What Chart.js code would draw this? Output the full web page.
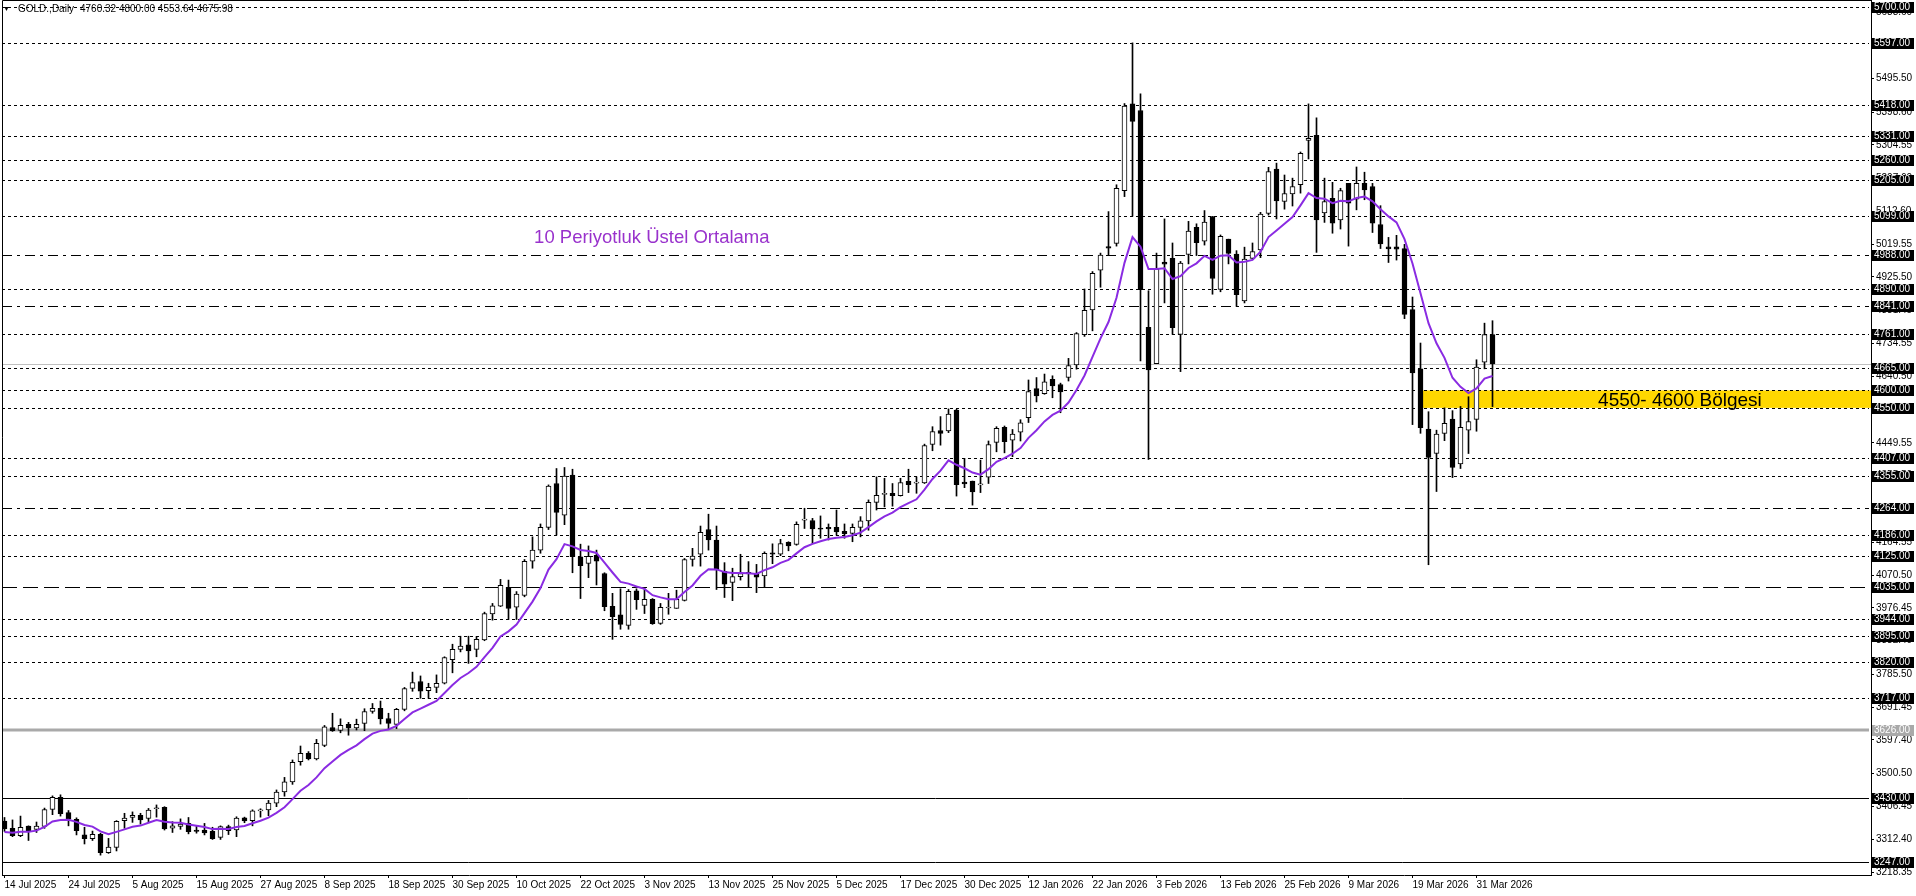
<!DOCTYPE html>
<html>
<head>
<meta charset="utf-8">
<script src="https://cdn.jsdelivr.net/npm/chart.js@4.4.1/dist/chart.umd.min.js"></script>
<style>
  html, body { margin: 0; padding: 0; background: #fff; overflow: hidden; }
  canvas { display: block; }
</style>
</head>
<body>
<canvas id="chart" width="1916" height="896"></canvas>
<script>
// ---- data ----
var symbolTitle = 'GOLD.,Daily';
var lastOHLC = [4760.32, 4800.00, 4553.64, 4675.98];

var dateLabels = ['14 Jul 2025', '24 Jul 2025', '5 Aug 2025', '15 Aug 2025', '27 Aug 2025', '8 Sep 2025',
  '18 Sep 2025', '30 Sep 2025', '10 Oct 2025', '22 Oct 2025', '3 Nov 2025', '13 Nov 2025', '25 Nov 2025',
  '5 Dec 2025', '17 Dec 2025', '30 Dec 2025', '12 Jan 2026', '22 Jan 2026', '3 Feb 2026', '13 Feb 2026',
  '25 Feb 2026', '9 Mar 2026', '19 Mar 2026', '31 Mar 2026'];
var barsPerDateLabel = 8;

var opens = [3365,3344,3323,3350,3341,3349,3398,3433,3389,3370,3325,3314,3327,3274,3289,3366,3375,3381,3372,3400,
  3404,3344,3349,3358,3339,3339,3335,3318,3349,3339,3374,3366,3394,3397,3416,3448,3477,3535,3559,3543,
  3582,3633,3625,3642,3632,3645,3679,3688,3659,3642,3685,3745,3765,3739,3748,3760,3828,3857,3870,3857,
  3884,3959,3981,4035,3978,4012,4110,4142,4207,4333,4242,4357,4123,4104,4127,4075,3981,3956,3926,4025,
  3983,4001,3932,3976,3975,3998,4115,4130,4201,4171,4081,4049,4066,4078,4075,4068,4134,4130,4164,4158,
  4228,4227,4205,4207,4207,4196,4190,4207,4226,4279,4302,4305,4298,4339,4334,4335,4445,4485,4484,4544,
  4337,4340,4329,4351,4451,4494,4457,4480,4522,4605,4591,4632,4617,4637,4673,4760,4831,4945,5013,5022,
  5173,5422,5403,4781,4677,4968,4979,4761,4990,5068,5028,5099,4890,5034,4991,4857,4979,5003,5108,5235,
  5142,5164,5190,5317,5332,5109,5151,5089,5194,5149,5194,5185,5076,5012,5012,5007,4832,4662,4489,4419,
  4477,4518,4389,4486,4517,4681,4760.32];
var highs = [3375,3368,3379,3351,3362,3402,3437,3440,3395,3374,3347,3336,3330,3315,3366,3387,3391,3387,3401,3411,
  3406,3363,3371,3375,3351,3358,3347,3351,3353,3377,3376,3397,3400,3424,3454,3490,3540,3580,3564,3599,
  3639,3674,3658,3648,3657,3687,3702,3709,3674,3688,3748,3792,3781,3760,3784,3836,3872,3895,3895,3894,
  3964,3989,4058,4056,4023,4115,4180,4217,4329,4376,4379,4374,4159,4154,4142,4077,4018,4031,4029,4031,
  4033,4003,3989,4018,4027,4118,4147,4211,4245,4211,4106,4090,4130,4109,4101,4137,4160,4173,4166,4223,
  4262,4233,4240,4217,4257,4217,4217,4238,4286,4352,4348,4333,4348,4374,4352,4446,4496,4525,4547,4546,
  4405,4340,4400,4455,4496,4498,4488,4516,4630,4637,4647,4642,4621,4692,4766,4891,4941,4994,5113,5190,
  5423,5597,5451,4886,4994,5092,5023,4970,5085,5078,5116,5099,5046,5034,5001,5011,5023,5111,5240,5252,
  5218,5209,5284,5422,5382,5209,5197,5180,5194,5241,5226,5194,5130,5039,5045,5019,4868,4736,4539,4486,
  4550,4542,4554,4582,4688,4793,4800.00];
var lows = [3335,3320,3320,3309,3332,3344,3383,3379,3351,3325,3299,3309,3267,3272,3279,3344,3361,3356,3363,3376,
  3339,3332,3341,3328,3330,3325,3312,3312,3326,3320,3360,3351,3376,3380,3406,3436,3470,3525,3540,3540,
  3578,3622,3618,3611,3626,3624,3674,3643,3628,3630,3681,3737,3717,3717,3733,3758,3790,3850,3817,3836,
  3882,3941,3980,3943,3943,4008,4090,4133,4201,4185,4215,4077,4003,4063,4042,3968,3886,3915,3915,3972,
  3960,3929,3929,3958,3975,3996,4096,4096,4142,4029,4006,3997,4056,4037,4020,4037,4103,4126,4140,4156,
  4204,4161,4176,4171,4185,4176,4166,4180,4199,4257,4266,4268,4297,4307,4305,4333,4427,4443,4479,4297,
  4321,4271,4307,4333,4424,4421,4410,4455,4508,4567,4589,4579,4536,4627,4661,4755,4771,4896,4987,5014,
  5156,5100,4685,4402,4677,4851,4761,4654,4963,4987,5017,4876,4883,4963,4841,4851,4977,4981,5103,5092,
  5120,5129,5166,5264,4996,5082,5051,5063,5014,5118,5147,5053,5007,4967,4974,4806,4502,4477,4100,4310,
  4456,4350,4376,4419,4483,4662,4553.64];
var closes = [3342,3323,3347,3336,3350,3398,3433,3386,3370,3337,3314,3327,3274,3290,3364,3373,3381,3368,3396,3402,
  3342,3351,3356,3334,3335,3331,3314,3349,3337,3373,3365,3394,3397,3416,3448,3477,3533,3559,3543,3588,
  3635,3624,3639,3632,3642,3679,3688,3658,3645,3685,3745,3762,3737,3748,3760,3834,3857,3867,3853,3886,
  3960,3982,4041,3975,4016,4110,4142,4207,4326,4250,4354,4123,4097,4124,4110,3980,3951,3929,4024,4000,
  4001,3931,3978,3978,4001,4115,4125,4193,4171,4085,4044,4066,4075,4074,4064,4133,4130,4161,4154,4216,
  4230,4203,4202,4203,4194,4189,4207,4226,4279,4299,4303,4298,4336,4330,4336,4442,4482,4477,4532,4330,
  4332,4309,4331,4445,4491,4453,4475,4507,4597,4584,4625,4613,4596,4671,4763,4830,4936,4988,5008,5180,
  5416,5372,4889,4659,4948,4962,4780,4965,5057,5024,5083,4921,5042,4993,4875,4977,4998,5106,5228,5144,
  5165,5185,5280,5323,5089,5142,5080,5173,5137,5194,5175,5080,5020,5006,5005,4818,4650,4493,4408,4475,
  4506,4379,4494,4511,4667,4760,4675.98];

// 10 period exponential average of the closes; level before the first bar
var emaPeriod = 10;
var emaStart = 3331;

// horizontal levels drawn on the chart
var levels = [5700, 5597, 5418, 5331, 5260, 5205, 5099, 4988, 4890, 4841, 4761, 4665, 4600, 4550,
  4407, 4355, 4264, 4186, 4125, 4035, 3944, 3895, 3820, 3717, 3626, 3430, 3247];
var dashDotLevels = [4988, 4841, 4264];
var longDashLevels = [4035];
var solidLevels = [3430, 3247];
var grayLevels = [3626];

var zoneRange = [4550, 4600];
var zoneStartBar = 177.15;
var zoneText = '4550- 4600 Bölgesi';
var emaText = '10 Periyotluk Üstel Ortalama';

// price scale tick labels
var priceTicks = [3218.35, 3312.40, 3406.45, 3500.50, 3597.40, 3691.45, 3785.50, 3882.40, 3976.45, 4070.50,
  4164.55, 4261.45, 4355.50, 4449.55, 4546.45, 4640.50, 4734.55, 4831.45, 4925.50, 5019.55, 5112.60,
  5207.60, 5304.55, 5398.60, 5495.50, 5590.55, 5683.60];
var priceMin = 3210, priceMax = 5720;

// ---- build datasets ----
var ema = [];
closes.reduce(function (prev, c, i) {
  var k = 2 / (emaPeriod + 1);
  var e = prev + k * (c - prev);
  ema.push({ x: i, y: e });
  return e;
}, emaStart);

var bodies = opens.map(function (o, i) { return { x: i, y: [o, closes[i]] }; });
var wicks = lows.map(function (l, i) { return { x: i, y: [l, highs[i]] }; });
var bodyColors = opens.map(function (o, i) { return closes[i] >= o ? '#ffffff' : '#000000'; });
var dateTickBars = dateLabels.map(function (d, i) { return i * barsPerDateLabel; });

var FONT = "'Liberation Sans', Arial, sans-serif";

var overlay = {
  id: 'overlay',
  beforeDatasetsDraw: function (chart) {
    var ctx = chart.ctx, a = chart.chartArea, x = chart.scales.x, y = chart.scales.y;
    ctx.save();
    ctx.beginPath();
    ctx.rect(a.left, a.top, a.right - a.left, a.bottom - a.top);
    ctx.clip();

    // yellow zone
    var zx = x.getPixelForValue(zoneStartBar);
    var zt = y.getPixelForValue(zoneRange[1]);
    var zb = y.getPixelForValue(zoneRange[0]);
    ctx.fillStyle = '#FFD700';
    ctx.fillRect(zx, zt, a.right - zx, zb - zt);

    // levels
    levels.forEach(function (v) {
      var py = Math.round(y.getPixelForValue(v)) + 0.5;
      ctx.beginPath();
      if (grayLevels.indexOf(v) >= 0) {
        ctx.strokeStyle = '#a9a9a9'; ctx.lineWidth = 3; ctx.setLineDash([]);
        py = Math.round(y.getPixelForValue(v));
      } else if (solidLevels.indexOf(v) >= 0) {
        ctx.strokeStyle = '#000'; ctx.lineWidth = 1; ctx.setLineDash([]);
      } else if (dashDotLevels.indexOf(v) >= 0) {
        ctx.strokeStyle = '#000'; ctx.lineWidth = 1; ctx.setLineDash([10, 5, 3, 5]);
      } else if (longDashLevels.indexOf(v) >= 0) {
        ctx.strokeStyle = '#000'; ctx.lineWidth = 1; ctx.setLineDash([15, 6]);
      } else {
        ctx.strokeStyle = '#000'; ctx.lineWidth = 1; ctx.setLineDash([3, 3]);
      }
      ctx.moveTo(a.left, py);
      ctx.lineTo(a.right - 2, py);
      ctx.stroke();
    });

    // bid line at last close
    var by = Math.round(y.getPixelForValue(lastOHLC[3])) + 0.5;
    ctx.setLineDash([]);
    ctx.strokeStyle = '#c0c0c0';
    ctx.lineWidth = 1;
    ctx.beginPath();
    ctx.moveTo(a.left, by);
    ctx.lineTo(a.right, by);
    ctx.stroke();
    ctx.restore();
  },
  afterDraw: function (chart) {
    var ctx = chart.ctx, a = chart.chartArea, x = chart.scales.x, y = chart.scales.y;
    ctx.save();

    // texts on the chart
    ctx.textBaseline = 'middle';
    ctx.textAlign = 'left';
    ctx.font = '18.5px ' + FONT;
    ctx.fillStyle = '#9932CC';
    ctx.fillText(emaText, x.getPixelForValue(66.2), y.getPixelForValue(5037));
    ctx.font = '19px ' + FONT;
    ctx.fillStyle = '#000';
    ctx.fillText(zoneText, x.getPixelForValue(199.2), y.getPixelForValue(4571));

    // frame
    ctx.strokeStyle = '#000';
    ctx.lineWidth = 1;
    ctx.beginPath();
    ctx.moveTo(a.left + 0.5, a.bottom);
    ctx.lineTo(a.left + 0.5, 0.5);
    ctx.lineTo(a.right, 0.5);
    ctx.stroke();

    // title
    ctx.font = '7px ' + FONT;
    ctx.fillText('\u25BC', 3, 9);
    ctx.font = '10px ' + FONT;
    ctx.fillText(symbolTitle, 18, 9);
    ctx.fillText(lastOHLC.map(function (v) { return v.toFixed(2); }).join(' '), 80, 9);

    // level price labels
    ctx.font = '10px ' + FONT;
    levels.forEach(function (v) {
      var py = Math.round(y.getPixelForValue(v));
      ctx.fillStyle = grayLevels.indexOf(v) >= 0 ? '#a9a9a9' : '#000';
      ctx.fillRect(a.right + 1, py - 5, 42, 11);
      ctx.fillStyle = '#fff';
      ctx.fillText(v.toFixed(2), a.right + 3, py + 0.5);
    });
    ctx.restore();
  }
};

new Chart(document.getElementById('chart'), {
  type: 'bar',
  data: {
    datasets: [
      {
        type: 'line', label: 'EMA', data: ema, order: 0,
        borderColor: '#8A2BE2', borderWidth: 2, pointRadius: 0, tension: 0, fill: false
      },
      {
        label: 'body', data: bodies, order: 1, grouped: false,
        barThickness: 5, minBarLength: 1,
        backgroundColor: bodyColors, borderColor: '#000', borderWidth: 1, borderSkipped: false
      },
      {
        label: 'wick', data: wicks, order: 2, grouped: false,
        barThickness: 1, backgroundColor: '#000', borderWidth: 0
      }
    ]
  },
  options: {
    responsive: false,
    animation: false,
    devicePixelRatio: 1,
    layout: { padding: { left: 2, top: 0, right: 0, bottom: 0 } },
    plugins: { legend: { display: false }, tooltip: { enabled: false } },
    scales: {
      x: {
        type: 'linear',
        min: -0.3125,
        max: 233.3125,
        offset: false,
        afterFit: function (scale) { scale.height = 21; scale.paddingLeft = 0; scale.paddingRight = 0; },
        afterBuildTicks: function (scale) {
          scale.ticks = dateTickBars.map(function (v) { return { value: v }; });
        },
        grid: { offset: false, drawOnChartArea: false, drawTicks: true, tickLength: 3, color: '#000' },
        border: { display: true, color: '#000', width: 1 },
        ticks: {
          autoSkip: false, maxRotation: 0, align: 'start', padding: 1,
          color: '#000', font: { family: FONT, size: 10 },
          callback: function (v, i) { return dateLabels[i]; }
        }
      },
      y: {
        type: 'linear',
        position: 'right',
        min: priceMin,
        max: priceMax,
        afterFit: function (scale) { scale.width = 45; scale.paddingTop = 0; scale.paddingBottom = 0; },
        afterBuildTicks: function (scale) {
          scale.ticks = priceTicks.map(function (v) { return { value: v }; });
        },
        grid: { drawOnChartArea: false, drawTicks: true, tickLength: 3, color: '#000' },
        border: { display: true, color: '#000', width: 1 },
        ticks: {
          autoSkip: false, padding: 2, color: '#000', font: { family: FONT, size: 10 },
          callback: function (v) { return Number(v).toFixed(2); }
        }
      }
    }
  },
  plugins: [overlay]
});
</script>
</body>
</html>
